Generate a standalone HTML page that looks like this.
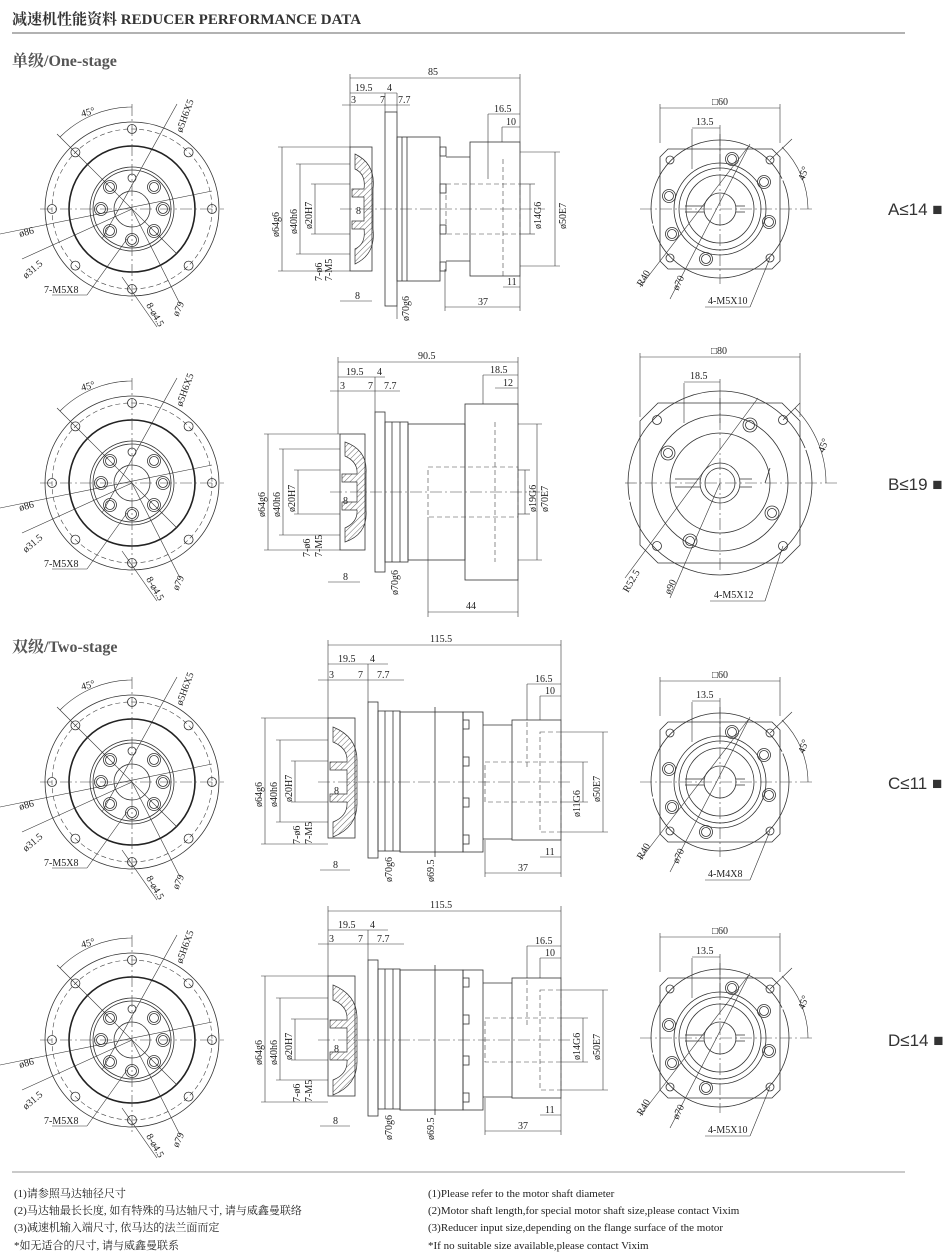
<!DOCTYPE html>
<html><head><meta charset="utf-8"><style>
body{margin:0;background:#fff;}
svg{display:block;}
.t{font-family:"Liberation Serif","Noto Serif CJK SC",serif;font-size:10px;fill:#222;}
.s{fill:none;stroke:#333;stroke-width:0.8;}
.th{fill:none;stroke:#222;stroke-width:1.6;}
.d{fill:none;stroke:#444;stroke-width:0.6;stroke-dasharray:5 3;}
.c{fill:none;stroke:#444;stroke-width:0.6;stroke-dasharray:12 3 2 3;}
.dm{fill:none;stroke:#333;stroke-width:0.6;}
.lab{font-family:"Liberation Sans",sans-serif;font-size:17px;fill:#333;}
</style></head><body>
<svg width="950" height="1255" viewBox="0 0 950 1255" xmlns="http://www.w3.org/2000/svg">
<defs>
<pattern id="h" width="4" height="4" patternUnits="userSpaceOnUse" patternTransform="rotate(45)"><line x1="0" y1="0" x2="0" y2="4" stroke="#444" stroke-width="0.8"/></pattern>
<g id="LF">
<circle class="s" r="87"/><circle class="d" r="80"/><circle class="th" r="63"/>
<circle class="s" r="42"/><circle class="s" r="39"/><circle class="s" r="18"/>
<g class="s">
<circle cx="0" cy="-80" r="4.5"/><circle cx="56.6" cy="-56.6" r="4.5"/><circle cx="80" cy="0" r="4.5"/><circle cx="56.6" cy="56.6" r="4.5"/><circle cx="0" cy="80" r="4.5"/><circle cx="-56.6" cy="56.6" r="4.5"/><circle cx="-80" cy="0" r="4.5"/><circle cx="-56.6" cy="-56.6" r="4.5"/>
<circle cx="0" cy="-31" r="4"/>
<circle cx="22" cy="-22" r="6.5"/><circle cx="22" cy="-22" r="4.5"/>
<circle cx="31" cy="0" r="6.5"/><circle cx="31" cy="0" r="4.5"/>
<circle cx="22" cy="22" r="6.5"/><circle cx="22" cy="22" r="4.5"/>
<circle cx="0" cy="31" r="6.5"/><circle cx="0" cy="31" r="4.5"/>
<circle cx="-22" cy="22" r="6.5"/><circle cx="-22" cy="22" r="4.5"/>
<circle cx="-31" cy="0" r="6.5"/><circle cx="-31" cy="0" r="4.5"/>
<circle cx="-22" cy="-22" r="6.5"/><circle cx="-22" cy="-22" r="4.5"/>
</g>
<line class="c" x1="-92" y1="0" x2="92" y2="0"/><line class="c" x1="0" y1="-105" x2="0" y2="95"/>
<g class="dm">
<line x1="-75" y1="-75" x2="45" y2="45"/><line x1="45" y1="-105" x2="-30" y2="30"/>
<line x1="-132" y1="25" x2="80" y2="-18"/><line x1="-110" y1="50" x2="0" y2="0"/>
<line x1="-80" y1="86" x2="-45" y2="86"/><line x1="-45" y1="86" x2="-5" y2="30"/>
<line x1="-10" y1="68" x2="25" y2="118"/><line x1="0" y1="0" x2="48" y2="95"/>
<path d="M-72,-72 A102,102 0 0 1 0,-102"/>
</g>
</g>
<g id="RS">
<path class="s" d="M-52,-60 L52,-60 L60,-52 L60,52 L52,60 L-52,60 L-60,52 L-60,-52 Z"/>
<circle class="s" r="69" stroke-dasharray="200 2"/><circle class="s" r="46"/><circle class="s" r="41"/><circle class="s" r="34"/><circle class="s" r="16"/>
<path class="s" d="M-35,-3 L-16,-3 M-35,3 L-16,3 M16,-3 L25,-3 M16,3 L25,3"/>
<g class="s">
<circle cx="-50" cy="-49" r="4"/><circle cx="50" cy="-49" r="4"/><circle cx="-50" cy="49" r="4"/><circle cx="50" cy="49" r="4"/>
<circle cx="12" cy="-50" r="6.5"/><circle cx="12" cy="-50" r="4.5"/>
<circle cx="44" cy="-27" r="6.5"/><circle cx="44" cy="-27" r="4.5"/>
<circle cx="-51" cy="-13" r="6.5"/><circle cx="-51" cy="-13" r="4.5"/>
<circle cx="49" cy="13" r="6.5"/><circle cx="49" cy="13" r="4.5"/>
<circle cx="-48" cy="25" r="6.5"/><circle cx="-48" cy="25" r="4.5"/>
<circle cx="-14" cy="50" r="6.5"/><circle cx="-14" cy="50" r="4.5"/>
</g>
<line class="c" x1="-80" y1="0" x2="95" y2="0"/><line class="c" x1="0" y1="-75" x2="0" y2="75"/>
<g class="dm">
<line x1="-60" y1="-66" x2="-60" y2="-105"/><line x1="60" y1="-66" x2="60" y2="-105"/>
<line x1="-60" y1="-101" x2="60" y2="-101"/>
<line x1="-28" y1="-80" x2="-28" y2="-40"/><line x1="0" y1="-84" x2="0" y2="-40"/><line x1="-28" y1="-81" x2="0" y2="-81"/>
<path d="M62,-62 A88,88 0 0 1 88,0"/><line x1="50" y1="-49" x2="72" y2="-70"/>
<line x1="-80" y1="78" x2="28" y2="-62"/><line x1="-50" y1="90" x2="30" y2="-65"/>
<line x1="-15" y1="98" x2="30" y2="98"/><line x1="30" y1="98" x2="50" y2="49"/>
</g>
</g>
<g id="RB">
<path class="s" d="M-62,-80 L62,-80 L80,-62 L80,62 L62,80 L-62,80 L-80,62 L-80,-62 Z"/>
<circle class="s" r="92" stroke-dasharray="270 2"/><circle class="s" r="68"/><circle class="s" r="50"/><circle class="s" r="20"/><circle class="s" r="15"/>
<path class="s" d="M-45,-4 L-20,-4 M-45,4 L-20,4 M20,-4 L32,-4 M20,4 L32,4 M50,-15 L45,0"/>
<g class="s">
<circle cx="-63" cy="-63" r="4.5"/><circle cx="63" cy="-63" r="4.5"/><circle cx="-63" cy="63" r="4.5"/><circle cx="63" cy="63" r="4.5"/>
<circle cx="30" cy="-58" r="7"/><circle cx="30" cy="-58" r="4.5"/>
<circle cx="-52" cy="-30" r="7"/><circle cx="-52" cy="-30" r="4.5"/>
<circle cx="52" cy="30" r="7"/><circle cx="52" cy="30" r="4.5"/>
<circle cx="-30" cy="58" r="7"/><circle cx="-30" cy="58" r="4.5"/>
</g>
<line class="c" x1="-95" y1="0" x2="120" y2="0"/><line class="c" x1="0" y1="-85" x2="0" y2="90"/>
<g class="dm">
<line x1="-80" y1="-66" x2="-80" y2="-130"/><line x1="80" y1="-66" x2="80" y2="-130"/>
<line x1="-80" y1="-126" x2="80" y2="-126"/>
<line x1="-36" y1="-100" x2="-36" y2="-60"/><line x1="0" y1="-104" x2="0" y2="-60"/><line x1="-36" y1="-101" x2="0" y2="-101"/>
<path d="M75,-75 A106,106 0 0 1 106,0"/><line x1="63" y1="-63" x2="80" y2="-80"/>
<line x1="-95" y1="95" x2="38" y2="-85"/><line x1="-50" y1="115" x2="0" y2="0"/>
<line x1="-10" y1="118" x2="45" y2="118"/><line x1="45" y1="118" x2="63" y2="63"/>
</g>
</g>
</defs>

<!-- header -->
<text x="12" y="24" style="font-family:'Liberation Serif','Noto Serif CJK SC',serif;font-size:15px;font-weight:bold;fill:#333">减速机性能资料 REDUCER PERFORMANCE DATA</text>
<line x1="12" y1="33" x2="905" y2="33" stroke="#999" stroke-width="1.5"/>
<text x="12" y="66" style="font-family:'Liberation Serif','Noto Serif CJK SC',serif;font-size:16px;font-weight:bold;fill:#555">单级/One-stage</text>
<text x="12" y="652" style="font-family:'Liberation Serif','Noto Serif CJK SC',serif;font-size:16px;font-weight:bold;fill:#555">双级/Two-stage</text>

<!-- left flanges -->
<g id="lft1" transform="translate(132,209)"><use href="#LF"/>
<text class="t" x="-50" y="-92" transform="rotate(-15 -50 -92)">45°</text>
<text class="t" transform="translate(50,-76) rotate(-70)">ø5H6X5</text>
<text class="t" transform="translate(-112,28) rotate(-15)">ø86</text>
<text class="t" transform="translate(-106,70) rotate(-40)">ø31.5</text>
<text class="t" x="-88" y="84">7-M5X8</text>
<text class="t" transform="translate(14,96) rotate(60)">8-ø4.5</text>
<text class="t" transform="translate(46,108) rotate(-65)">ø79</text></g>
<g transform="translate(132,483)"><use href="#LF"/>
<text class="t" x="-50" y="-92" transform="rotate(-15 -50 -92)">45°</text>
<text class="t" transform="translate(50,-76) rotate(-70)">ø5H6X5</text>
<text class="t" transform="translate(-112,28) rotate(-15)">ø86</text>
<text class="t" transform="translate(-106,70) rotate(-40)">ø31.5</text>
<text class="t" x="-88" y="84">7-M5X8</text>
<text class="t" transform="translate(14,96) rotate(60)">8-ø4.5</text>
<text class="t" transform="translate(46,108) rotate(-65)">ø79</text></g>
<g transform="translate(132,782)"><use href="#LF"/>
<text class="t" x="-50" y="-92" transform="rotate(-15 -50 -92)">45°</text>
<text class="t" transform="translate(50,-76) rotate(-70)">ø5H6X5</text>
<text class="t" transform="translate(-112,28) rotate(-15)">ø86</text>
<text class="t" transform="translate(-106,70) rotate(-40)">ø31.5</text>
<text class="t" x="-88" y="84">7-M5X8</text>
<text class="t" transform="translate(14,96) rotate(60)">8-ø4.5</text>
<text class="t" transform="translate(46,108) rotate(-65)">ø79</text></g>
<g transform="translate(132,1040)"><use href="#LF"/>
<text class="t" x="-50" y="-92" transform="rotate(-15 -50 -92)">45°</text>
<text class="t" transform="translate(50,-76) rotate(-70)">ø5H6X5</text>
<text class="t" transform="translate(-112,28) rotate(-15)">ø86</text>
<text class="t" transform="translate(-106,70) rotate(-40)">ø31.5</text>
<text class="t" x="-88" y="84">7-M5X8</text>
<text class="t" transform="translate(14,96) rotate(60)">8-ø4.5</text>
<text class="t" transform="translate(46,108) rotate(-65)">ø79</text></g>

<!-- right views -->
<g transform="translate(720,209)"><use href="#RS"/>
<text class="t" x="-8" y="-104">□60</text><text class="t" x="-24" y="-84">13.5</text>
<text class="t" transform="translate(84,-28) rotate(-70)">45°</text>
<text class="t" transform="translate(-78,78) rotate(-60)">R40</text>
<text class="t" transform="translate(-42,82) rotate(-65)">ø70</text>
<text class="t" x="-12" y="95">4-M5X10</text></g>
<g transform="translate(720,483)"><use href="#RB"/>
<text class="t" x="-9" y="-129">□80</text><text class="t" x="-30" y="-104">18.5</text>
<text class="t" transform="translate(104,-30) rotate(-70)">45°</text>
<text class="t" transform="translate(-92,110) rotate(-60)">R52.5</text>
<text class="t" transform="translate(-50,112) rotate(-65)">ø90</text>
<text class="t" x="-6" y="115">4-M5X12</text></g>
<g transform="translate(720,782)"><use href="#RS"/>
<text class="t" x="-8" y="-104">□60</text><text class="t" x="-24" y="-84">13.5</text>
<text class="t" transform="translate(84,-28) rotate(-70)">45°</text>
<text class="t" transform="translate(-78,78) rotate(-60)">R40</text>
<text class="t" transform="translate(-42,82) rotate(-65)">ø70</text>
<text class="t" x="-12" y="95">4-M4X8</text></g>
<g transform="translate(720,1038)"><use href="#RS"/>
<text class="t" x="-8" y="-104">□60</text><text class="t" x="-24" y="-84">13.5</text>
<text class="t" transform="translate(84,-28) rotate(-70)">45°</text>
<text class="t" transform="translate(-78,78) rotate(-60)">R40</text>
<text class="t" transform="translate(-42,82) rotate(-65)">ø70</text>
<text class="t" x="-12" y="95">4-M5X10</text></g>

<text class="lab" x="888" y="215">A≤14 ■</text>
<text class="lab" x="888" y="490">B≤19 ■</text>
<text class="lab" x="888" y="789">C≤11 ■</text>
<text class="lab" x="888" y="1046">D≤14 ■</text>

<!-- middle A -->
<g transform="translate(0,209)">
<rect class="s" x="350" y="-62" width="22" height="124"/>
<path d="M355,-55 Q376,-45 373,-20 L373,20 Q376,45 355,55 L355,40 Q366,35 364,20 L352,20 L352,12 L364,12 L364,-12 L352,-12 L352,-20 L364,-20 Q366,-35 355,-40 Z" fill="url(#h)" stroke="#333" stroke-width="0.7"/>
<rect class="s" x="385" y="-97" width="12" height="194"/>
<rect class="s" x="397" y="-72" width="43" height="144"/>
<line class="s" x1="402" y1="-72" x2="402" y2="72"/><line class="s" x1="407" y1="-72" x2="407" y2="72"/>
<rect class="s" x="440" y="-62" width="6" height="9"/><rect class="s" x="440" y="-25" width="6" height="9"/><rect class="s" x="440" y="16" width="6" height="9"/><rect class="s" x="440" y="53" width="6" height="9"/>
<path class="s" d="M446,-52 L470,-52 M446,52 L470,52"/>
<rect class="s" x="470" y="-67" width="50" height="134"/>
<rect class="d" x="446" y="-25" width="74" height="50"/>
<line class="d" x1="503" y1="-50" x2="503" y2="67"/>
<line class="c" x1="340" y1="0" x2="545" y2="0"/>
<g class="dm">
<line x1="350" y1="-135" x2="350" y2="-62"/><line x1="520" y1="-135" x2="520" y2="-67"/>
<line x1="350" y1="-131" x2="520" y2="-131"/><line x1="350" y1="-116" x2="397" y2="-116"/>
<line x1="342" y1="-104" x2="410" y2="-104"/><line x1="385" y1="-116" x2="385" y2="-97"/><line x1="397" y1="-116" x2="397" y2="-97"/>
<line x1="488" y1="-95" x2="520" y2="-95"/><line x1="488" y1="-95" x2="488" y2="-30"/>
<line x1="502" y1="-82" x2="520" y2="-82"/><line x1="502" y1="-82" x2="502" y2="-67"/>
<line x1="278" y1="-62" x2="350" y2="-62"/><line x1="278" y1="62" x2="350" y2="62"/><line x1="282" y1="-62" x2="282" y2="62"/>
<line x1="296" y1="-45" x2="350" y2="-45"/><line x1="296" y1="45" x2="350" y2="45"/><line x1="300" y1="-45" x2="300" y2="45"/>
<line x1="311" y1="-25" x2="350" y2="-25"/><line x1="311" y1="25" x2="350" y2="25"/><line x1="315" y1="-25" x2="315" y2="25"/>
<line x1="340" y1="92" x2="372" y2="92"/><line x1="445" y1="98" x2="520" y2="98"/><line x1="445" y1="60" x2="445" y2="102"/><line x1="520" y1="67" x2="520" y2="102"/>
<line x1="503" y1="78" x2="520" y2="78"/>
<line x1="520" y1="-25" x2="535" y2="-25"/><line x1="520" y1="25" x2="535" y2="25"/><line x1="530" y1="-25" x2="530" y2="25"/>
<line x1="520" y1="-57" x2="560" y2="-57"/><line x1="520" y1="57" x2="560" y2="57"/><line x1="555" y1="-57" x2="555" y2="57"/>
<line x1="397" y1="97" x2="397" y2="110"/>
</g>
<text class="t" x="428" y="-134">85</text><text class="t" x="355" y="-118">19.5</text><text class="t" x="387" y="-118">4</text>
<text class="t" x="351" y="-106">3</text><text class="t" x="380" y="-106">7</text><text class="t" x="398" y="-106">7.7</text>
<text class="t" x="494" y="-97">16.5</text><text class="t" x="506" y="-84">10</text>
<text class="t" transform="translate(279,28) rotate(-90)">ø64g6</text>
<text class="t" transform="translate(297,25) rotate(-90)">ø40h6</text>
<text class="t" transform="translate(312,20) rotate(-90)">ø20H7</text>
<text class="t" x="356" y="5">8</text>
<text class="t" transform="translate(322,72) rotate(-90)">7-ø6</text>
<text class="t" transform="translate(332,72) rotate(-90)">7-M5</text>
<text class="t" x="355" y="90">8</text><text class="t" transform="translate(409,112) rotate(-90)">ø70g6</text>
<text class="t" x="478" y="96">37</text><text class="t" x="507" y="76">11</text>
<text class="t" transform="translate(541,20) rotate(-90)">ø14G6</text>
<text class="t" transform="translate(566,20) rotate(-90)">ø50E7</text>
</g>

<!-- middle B -->
<g transform="translate(0,492)">
<rect class="s" x="340" y="-58" width="25" height="116"/>
<path d="M345,-50 Q368,-42 366,-18 L366,18 Q368,42 345,50 L345,36 Q358,30 357,18 L342,18 L342,10 L357,10 L357,-10 L342,-10 L342,-18 L357,-18 Q358,-30 345,-36 Z" fill="url(#h)" stroke="#333" stroke-width="0.7"/>
<rect class="s" x="375" y="-80" width="10" height="160"/>
<rect class="s" x="385" y="-70" width="23" height="140"/>
<line class="s" x1="392" y1="-70" x2="392" y2="70"/><line class="s" x1="400" y1="-70" x2="400" y2="70"/>
<rect class="s" x="408" y="-68" width="57" height="136"/>
<rect class="s" x="465" y="-88" width="53" height="176"/>
<line class="d" x1="495" y1="-70" x2="495" y2="70"/>
<rect class="d" x="428" y="-25" width="90" height="50"/>
<line class="c" x1="330" y1="0" x2="540" y2="0"/>
<g class="dm">
<line x1="338" y1="-135" x2="338" y2="-58"/><line x1="518" y1="-135" x2="518" y2="-88"/>
<line x1="338" y1="-130" x2="518" y2="-130"/><line x1="338" y1="-115" x2="385" y2="-115"/>
<line x1="330" y1="-101" x2="400" y2="-101"/><line x1="375" y1="-115" x2="375" y2="-80"/>
<line x1="483" y1="-117" x2="518" y2="-117"/><line x1="483" y1="-117" x2="483" y2="-88"/>
<line x1="495" y1="-104" x2="518" y2="-104"/>
<line x1="264" y1="-58" x2="340" y2="-58"/><line x1="264" y1="58" x2="340" y2="58"/><line x1="268" y1="-58" x2="268" y2="58"/>
<line x1="279" y1="-43" x2="340" y2="-43"/><line x1="279" y1="43" x2="340" y2="43"/><line x1="283" y1="-43" x2="283" y2="43"/>
<line x1="294" y1="-22" x2="340" y2="-22"/><line x1="294" y1="22" x2="340" y2="22"/><line x1="298" y1="-22" x2="298" y2="22"/>
<line x1="328" y1="90" x2="360" y2="90"/>
<line x1="428" y1="25" x2="428" y2="125"/><line x1="518" y1="88" x2="518" y2="125"/><line x1="428" y1="120" x2="518" y2="120"/>
<line x1="518" y1="-22" x2="530" y2="-22"/><line x1="518" y1="22" x2="530" y2="22"/><line x1="525" y1="-22" x2="525" y2="22"/>
<line x1="518" y1="-68" x2="542" y2="-68"/><line x1="518" y1="68" x2="542" y2="68"/><line x1="537" y1="-68" x2="537" y2="68"/>
</g>
<text class="t" x="418" y="-133">90.5</text><text class="t" x="346" y="-117">19.5</text><text class="t" x="377" y="-117">4</text>
<text class="t" x="340" y="-103">3</text><text class="t" x="368" y="-103">7</text><text class="t" x="384" y="-103">7.7</text>
<text class="t" x="490" y="-119">18.5</text><text class="t" x="503" y="-106">12</text>
<text class="t" transform="translate(265,25) rotate(-90)">ø64g6</text>
<text class="t" transform="translate(280,25) rotate(-90)">ø40h6</text>
<text class="t" transform="translate(295,20) rotate(-90)">ø20H7</text>
<text class="t" x="343" y="12">8</text>
<text class="t" transform="translate(310,65) rotate(-90)">7-ø6</text>
<text class="t" transform="translate(322,65) rotate(-90)">7-M5</text>
<text class="t" x="343" y="88">8</text><text class="t" transform="translate(398,103) rotate(-90)">ø70g6</text>
<text class="t" x="466" y="117">44</text>
<text class="t" transform="translate(536,20) rotate(-90)">ø19G6</text>
<text class="t" transform="translate(548,20) rotate(-90)">ø70E7</text>
</g>

<!-- middle C and D (two-stage) -->
<g id="mc" transform="translate(0,782)">
<rect class="s" x="328" y="-64" width="27" height="120"/>
<path d="M333,-55 Q358,-45 357,-20 L357,20 Q358,45 333,55 L333,40 Q348,34 347,20 L330,20 L330,12 L347,12 L347,-12 L330,-12 L330,-20 L347,-20 Q348,-34 333,-40 Z" fill="url(#h)" stroke="#333" stroke-width="0.7"/>
<rect class="s" x="368" y="-80" width="10" height="156"/>
<rect class="s" x="378" y="-71" width="22" height="140"/>
<line class="s" x1="385" y1="-71" x2="385" y2="69"/><line class="s" x1="393" y1="-71" x2="393" y2="69"/>
<rect class="s" x="400" y="-70" width="63" height="140"/>
<line class="s" x1="435" y1="-75" x2="435" y2="75"/>
<rect class="s" x="463" y="-70" width="20" height="140"/>
<rect class="s" x="463" y="-62" width="6" height="9"/><rect class="s" x="463" y="-25" width="6" height="9"/><rect class="s" x="463" y="16" width="6" height="9"/><rect class="s" x="463" y="53" width="6" height="9"/>
<path class="s" d="M483,-57 L512,-57 M483,57 L512,57"/>
<rect class="s" x="512" y="-62" width="49" height="120"/>
<rect class="d" x="540" y="-50" width="21" height="100"/>
<rect class="d" x="485" y="-20" width="76" height="40"/>
<line class="d" x1="527" y1="-60" x2="527" y2="-15"/>
<line class="c" x1="318" y1="0" x2="570" y2="0"/>
<g class="dm">
<line x1="328" y1="-142" x2="328" y2="-64"/><line x1="561" y1="-142" x2="561" y2="-62"/>
<line x1="328" y1="-137" x2="561" y2="-137"/><line x1="328" y1="-118" x2="388" y2="-118"/>
<line x1="318" y1="-102" x2="404" y2="-102"/><line x1="368" y1="-118" x2="368" y2="-80"/>
<line x1="527" y1="-98" x2="561" y2="-98"/><line x1="527" y1="-98" x2="527" y2="-62"/>
<line x1="540" y1="-86" x2="561" y2="-86"/><line x1="540" y1="-86" x2="540" y2="-62"/>
<line x1="261" y1="-64" x2="328" y2="-64"/><line x1="261" y1="62" x2="328" y2="62"/><line x1="265" y1="-64" x2="265" y2="62"/>
<line x1="276" y1="-42" x2="328" y2="-42"/><line x1="276" y1="40" x2="328" y2="40"/><line x1="280" y1="-42" x2="280" y2="40"/>
<line x1="291" y1="-21" x2="328" y2="-21"/><line x1="291" y1="20" x2="328" y2="20"/><line x1="295" y1="-21" x2="295" y2="20"/>
<line x1="320" y1="88" x2="350" y2="88"/>
<line x1="485" y1="58" x2="485" y2="95"/><line x1="561" y1="58" x2="561" y2="95"/><line x1="485" y1="91" x2="561" y2="91"/>
<line x1="540" y1="75" x2="561" y2="75"/>
<line x1="561" y1="-20" x2="588" y2="-20"/><line x1="561" y1="20" x2="588" y2="20"/><line x1="583" y1="-20" x2="583" y2="20"/>
<line x1="561" y1="-50" x2="608" y2="-50"/><line x1="561" y1="50" x2="608" y2="50"/><line x1="603" y1="-50" x2="603" y2="50"/>
</g>
<text class="t" x="430" y="-140">115.5</text><text class="t" x="338" y="-120">19.5</text><text class="t" x="370" y="-120">4</text>
<text class="t" x="329" y="-104">3</text><text class="t" x="358" y="-104">7</text><text class="t" x="377" y="-104">7.7</text>
<text class="t" x="535" y="-100">16.5</text><text class="t" x="545" y="-88">10</text>
<text class="t" transform="translate(262,25) rotate(-90)">ø64g6</text>
<text class="t" transform="translate(277,25) rotate(-90)">ø40h6</text>
<text class="t" transform="translate(292,20) rotate(-90)">ø20H7</text>
<text class="t" x="334" y="12">8</text>
<text class="t" transform="translate(300,62) rotate(-90)">7-ø6</text>
<text class="t" transform="translate(312,62) rotate(-90)">7-M5</text>
<text class="t" x="333" y="86">8</text><text class="t" transform="translate(392,100) rotate(-90)">ø70g6</text>
<text class="t" transform="translate(434,100) rotate(-90)">ø69.5</text>
<text class="t" x="518" y="89">37</text><text class="t" x="545" y="73">11</text>
<text class="t" transform="translate(580,35) rotate(-90)">ø11G6</text>
<text class="t" transform="translate(600,20) rotate(-90)">ø50E7</text>
</g>
<g transform="translate(0,1040)">
<rect class="s" x="328" y="-64" width="27" height="120"/>
<path d="M333,-55 Q358,-45 357,-20 L357,20 Q358,45 333,55 L333,40 Q348,34 347,20 L330,20 L330,12 L347,12 L347,-12 L330,-12 L330,-20 L347,-20 Q348,-34 333,-40 Z" fill="url(#h)" stroke="#333" stroke-width="0.7"/>
<rect class="s" x="368" y="-80" width="10" height="156"/>
<rect class="s" x="378" y="-71" width="22" height="140"/>
<line class="s" x1="385" y1="-71" x2="385" y2="69"/><line class="s" x1="393" y1="-71" x2="393" y2="69"/>
<rect class="s" x="400" y="-70" width="63" height="140"/>
<line class="s" x1="435" y1="-75" x2="435" y2="75"/>
<rect class="s" x="463" y="-70" width="20" height="140"/>
<rect class="s" x="463" y="-62" width="6" height="9"/><rect class="s" x="463" y="-25" width="6" height="9"/><rect class="s" x="463" y="16" width="6" height="9"/><rect class="s" x="463" y="53" width="6" height="9"/>
<path class="s" d="M483,-57 L512,-57 M483,57 L512,57"/>
<rect class="s" x="512" y="-62" width="49" height="120"/>
<rect class="d" x="540" y="-50" width="21" height="100"/>
<rect class="d" x="485" y="-22" width="76" height="44"/>
<line class="d" x1="527" y1="-60" x2="527" y2="-15"/>
<line class="c" x1="318" y1="0" x2="570" y2="0"/>
<g class="dm">
<line x1="328" y1="-134" x2="328" y2="-64"/><line x1="561" y1="-134" x2="561" y2="-62"/>
<line x1="328" y1="-129" x2="561" y2="-129"/><line x1="328" y1="-110" x2="388" y2="-110"/>
<line x1="318" y1="-96" x2="404" y2="-96"/><line x1="368" y1="-110" x2="368" y2="-80"/>
<line x1="527" y1="-94" x2="561" y2="-94"/><line x1="527" y1="-94" x2="527" y2="-62"/>
<line x1="540" y1="-82" x2="561" y2="-82"/><line x1="540" y1="-82" x2="540" y2="-62"/>
<line x1="261" y1="-64" x2="328" y2="-64"/><line x1="261" y1="62" x2="328" y2="62"/><line x1="265" y1="-64" x2="265" y2="62"/>
<line x1="276" y1="-42" x2="328" y2="-42"/><line x1="276" y1="40" x2="328" y2="40"/><line x1="280" y1="-42" x2="280" y2="40"/>
<line x1="291" y1="-21" x2="328" y2="-21"/><line x1="291" y1="20" x2="328" y2="20"/><line x1="295" y1="-21" x2="295" y2="20"/>
<line x1="320" y1="86" x2="350" y2="86"/>
<line x1="485" y1="58" x2="485" y2="95"/><line x1="561" y1="58" x2="561" y2="95"/><line x1="485" y1="91" x2="561" y2="91"/>
<line x1="540" y1="75" x2="561" y2="75"/>
<line x1="561" y1="-22" x2="588" y2="-22"/><line x1="561" y1="22" x2="588" y2="22"/><line x1="583" y1="-22" x2="583" y2="22"/>
<line x1="561" y1="-50" x2="608" y2="-50"/><line x1="561" y1="50" x2="608" y2="50"/><line x1="603" y1="-50" x2="603" y2="50"/>
</g>
<text class="t" x="430" y="-132">115.5</text><text class="t" x="338" y="-112">19.5</text><text class="t" x="370" y="-112">4</text>
<text class="t" x="329" y="-98">3</text><text class="t" x="358" y="-98">7</text><text class="t" x="377" y="-98">7.7</text>
<text class="t" x="535" y="-96">16.5</text><text class="t" x="545" y="-84">10</text>
<text class="t" transform="translate(262,25) rotate(-90)">ø64g6</text>
<text class="t" transform="translate(277,25) rotate(-90)">ø40h6</text>
<text class="t" transform="translate(292,20) rotate(-90)">ø20H7</text>
<text class="t" x="334" y="12">8</text>
<text class="t" transform="translate(300,62) rotate(-90)">7-ø6</text>
<text class="t" transform="translate(312,62) rotate(-90)">7-M5</text>
<text class="t" x="333" y="84">8</text><text class="t" transform="translate(392,100) rotate(-90)">ø70g6</text>
<text class="t" transform="translate(434,100) rotate(-90)">ø69.5</text>
<text class="t" x="518" y="89">37</text><text class="t" x="545" y="73">11</text>
<text class="t" transform="translate(580,20) rotate(-90)">ø14G6</text>
<text class="t" transform="translate(600,20) rotate(-90)">ø50E7</text>
</g>

<!-- footer -->
<line x1="12" y1="1172" x2="905" y2="1172" stroke="#aaa" stroke-width="1.2"/>
<g style="font-family:'Liberation Serif','Noto Serif CJK SC',serif;font-size:11px;fill:#222">
<text x="14" y="1197">(1)请参照马达轴径尺寸</text>
<text x="14" y="1214">(2)马达轴最长长度, 如有特殊的马达轴尺寸, 请与威鑫曼联络</text>
<text x="14" y="1231">(3)减速机输入端尺寸, 依马达的法兰面而定</text>
<text x="14" y="1249">*如无适合的尺寸, 请与威鑫曼联系</text>
<text x="428" y="1197">(1)Please refer to the motor shaft diameter</text>
<text x="428" y="1214">(2)Motor shaft length,for special motor shaft size,please contact Vixim</text>
<text x="428" y="1231">(3)Reducer input size,depending on the flange surface of the motor</text>
<text x="428" y="1249">*If no suitable size available,please contact Vixim</text>
</g>
</svg>
</body></html>
